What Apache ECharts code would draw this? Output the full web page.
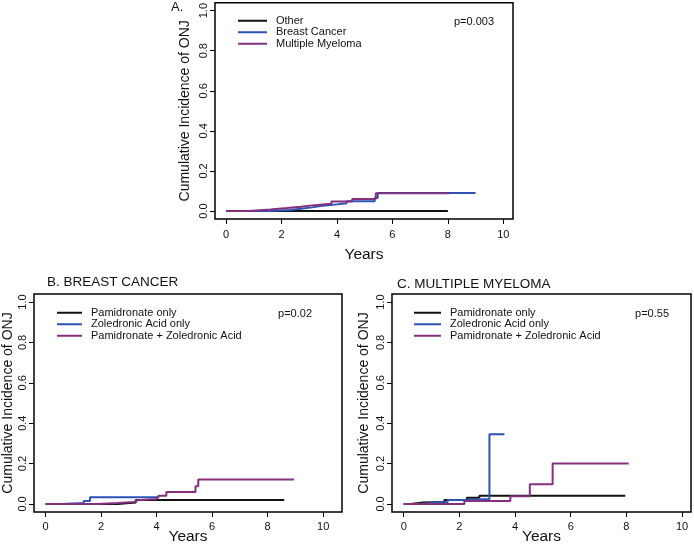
<!DOCTYPE html>
<html><head><meta charset="utf-8">
<script src="https://cdn.jsdelivr.net/npm/echarts@6/dist/echarts.min.js"></script>
<style>html,body{margin:0;padding:0;background:#fff}#c{width:694px;height:546px}</style>
</head><body><div id="c"></div>
<script>
// ---- data ----
const xTicks = [0, 2, 4, 6, 8, 10];
const yTicks = [0, 0.2, 0.4, 0.6, 0.8, 1.0];
const seriesNamesA = ['Other', 'Breast Cancer', 'Multiple Myeloma'];
const seriesNamesBC = ['Pamidronate only', 'Zoledronic Acid only', 'Pamidronate + Zoledronic Acid'];
const pA = 'p=0.003', pB = 'p=0.02', pC = 'p=0.55';
const titleA = 'A.', titleB = 'B. BREAST CANCER', titleC = 'C. MULTIPLE MYELOMA';
const yName = 'Cumulative Incidence of ONJ', xName = 'Years';

// Panel A
const aOtherT = [0, 8.0];
const aOtherV = [0, 0];
const aBreastT = [0, 1.6, 2.3, 2.7, 3.1, 3.4, 4.0, 4.35, 5.36, 5.47, 9.0];
const aBreastV = [0, 0.005, 0.011, 0.018, 0.025, 0.033, 0.039, 0.049, 0.065, 0.09, 0.09];
const aMyelomaT = [0, 0.8, 1.6, 2.2, 2.7, 3.1, 3.8, 4.55, 5.4, 8.05];
const aMyelomaV = [0, 0.008, 0.015, 0.021, 0.028, 0.036, 0.047, 0.06, 0.088, 0.088];

// Panel B
const bPamT = [0, 2.6, 3.25, 8.6];
const bPamV = [0, 0.007, 0.02, 0.02];
const bZolT = [0, 0.55, 1.37, 1.6, 4.1];
const bZolV = [0, 0.005, 0.015, 0.033, 0.033];
const bBothT = [0, 1.86, 2.6, 3.2, 3.3, 4.0, 4.07, 4.35, 5.4, 5.5, 8.95];
const bBothV = [0, 0.005, 0.01, 0.018, 0.025, 0.034, 0.04, 0.059, 0.088, 0.121, 0.121];

// Panel C
const cPamT = [0, 0.26, 0.68, 1.46, 2.27, 2.72, 7.96];
const cPamV = [0, 0.007, 0.01, 0.02, 0.03, 0.04, 0.04];
const cZolT = [0, 0.56, 0.98, 1.58, 2.24, 3.08, 3.62];
const cZolV = [0, 0.005, 0.01, 0.02, 0.025, 0.345, 0.345];
const cBothT = [0, 2.18, 3.83, 4.53, 5.35, 8.08];
const cBothV = [0, 0.015, 0.038, 0.097, 0.2, 0.2];

// ---- styling ----
const colors = ['#111111', '#2c52b4', '#84307c'];
const FONT = '"Liberation Sans", Arial, sans-serif';
const zip = (t, v) => t.map((x, i) => [x, v[i]]);

const grids = [
  {left: 215, top: 1, width: 298, height: 218},
  {left: 33, top: 294, width: 309, height: 221},
  {left: 392, top: 294, width: 299, height: 221}
];
const xRanges = [[-0.4, 10.35], [-0.42, 10.68], [-0.42, 10.32]];

function xAxisFor(i, nameGap, nameSize, margin) {
  return {
    type: 'value', gridIndex: i, min: xRanges[i][0], max: xRanges[i][1],
    axisLine: {show: false, onZero: false}, splitLine: {show: false},
    axisTick: {show: true, customValues: xTicks, length: 5, lineStyle: {color: '#000', width: 1}},
    axisLabel: {customValues: xTicks, color: '#111', fontSize: 11, fontFamily: FONT, margin: margin},
    name: xName, nameLocation: 'middle', nameGap: nameGap, nameMoveOverlap: false,
    nameTextStyle: {fontSize: nameSize, fontFamily: FONT, color: '#111'}
  };
}
function yAxisFor(i, nameGap, margin) {
  return {
    type: 'value', gridIndex: i, min: -0.04, max: 1.04,
    axisLine: {show: false, onZero: false}, splitLine: {show: false},
    axisTick: {show: true, customValues: yTicks, length: 5, lineStyle: {color: '#000', width: 1}},
    axisLabel: {customValues: yTicks, rotate: 90, color: '#111', fontSize: 11, fontFamily: FONT, margin: margin,
      formatter: v => v.toFixed(1)},
    name: yName, nameLocation: 'middle', nameGap: nameGap, nameMoveOverlap: false,
    nameTextStyle: {fontSize: 14, fontFamily: FONT, color: '#111'}
  };
}
function mk(name, t, v, idx, c) {
  return {
    name: name, type: 'line', step: 'end', xAxisIndex: idx, yAxisIndex: idx,
    data: zip(t, v), showSymbol: false, symbol: 'none',
    lineStyle: {color: colors[c], width: 2}, itemStyle: {color: colors[c]},
    animation: false, silent: true, z: 3 + c
  };
}
function legendFor(names, left, top, w) {
  return {
    data: names, left: left, top: top, orient: 'vertical', itemGap: 0,
    itemWidth: w, itemHeight: 2, icon: 'rect',
    textStyle: {fontSize: 11, fontFamily: FONT, color: '#111', lineHeight: 11.5, padding: [0, 0, 0, 4]},
    selectedMode: false, padding: 0
  };
}
const tStyle = (s) => ({fontSize: s, fontWeight: 'normal', fontFamily: FONT, color: '#111'});

const option = {
  backgroundColor: '#fff',
  animation: false,
  grid: grids.map(g => Object.assign({show: true, borderColor: '#000', borderWidth: 1.5, backgroundColor: 'transparent'}, g)),
  xAxis: [xAxisFor(0, 28, 15.5, 10), xAxisFor(1, 17, 15.5, 9), xAxisFor(2, 17, 15.5, 9)],
  yAxis: [yAxisFor(0, 23, 6), yAxisFor(1, 19, 6), yAxisFor(2, 21, 6)],
  title: [
    {text: titleA, left: 171, top: 1, textStyle: tStyle(13), padding: 0},
    {text: titleB, left: 47, top: 275, textStyle: tStyle(13.5), padding: 0},
    {text: titleC, left: 397, top: 277, textStyle: tStyle(13.5), padding: 0},
    {text: pA, right: 694 - 494, top: 16, textStyle: tStyle(11), padding: 0},
    {text: pB, right: 694 - 312, top: 308, textStyle: tStyle(11), padding: 0},
    {text: pC, right: 694 - 669, top: 308, textStyle: tStyle(11), padding: 0}
  ],
  legend: [
    legendFor(seriesNamesA, 238, 15, 29),
    legendFor(seriesNamesBC, 57, 307, 25),
    legendFor(seriesNamesBC, 414, 307, 27)
  ],
  series: [
    mk(seriesNamesA[0], aOtherT, aOtherV, 0, 0),
    mk(seriesNamesA[1], aBreastT, aBreastV, 0, 1),
    mk(seriesNamesA[2], aMyelomaT, aMyelomaV, 0, 2),
    mk(seriesNamesBC[0], bPamT, bPamV, 1, 0),
    mk(seriesNamesBC[1], bZolT, bZolV, 1, 1),
    mk(seriesNamesBC[2], bBothT, bBothV, 1, 2),
    mk(seriesNamesBC[0], cPamT, cPamV, 2, 0),
    mk(seriesNamesBC[1], cZolT, cZolV, 2, 1),
    mk(seriesNamesBC[2], cBothT, cBothV, 2, 2)
  ]
};
const chart = echarts.init(document.getElementById('c'), null, {renderer: 'canvas'});
chart.setOption(option);
</script></body></html>
